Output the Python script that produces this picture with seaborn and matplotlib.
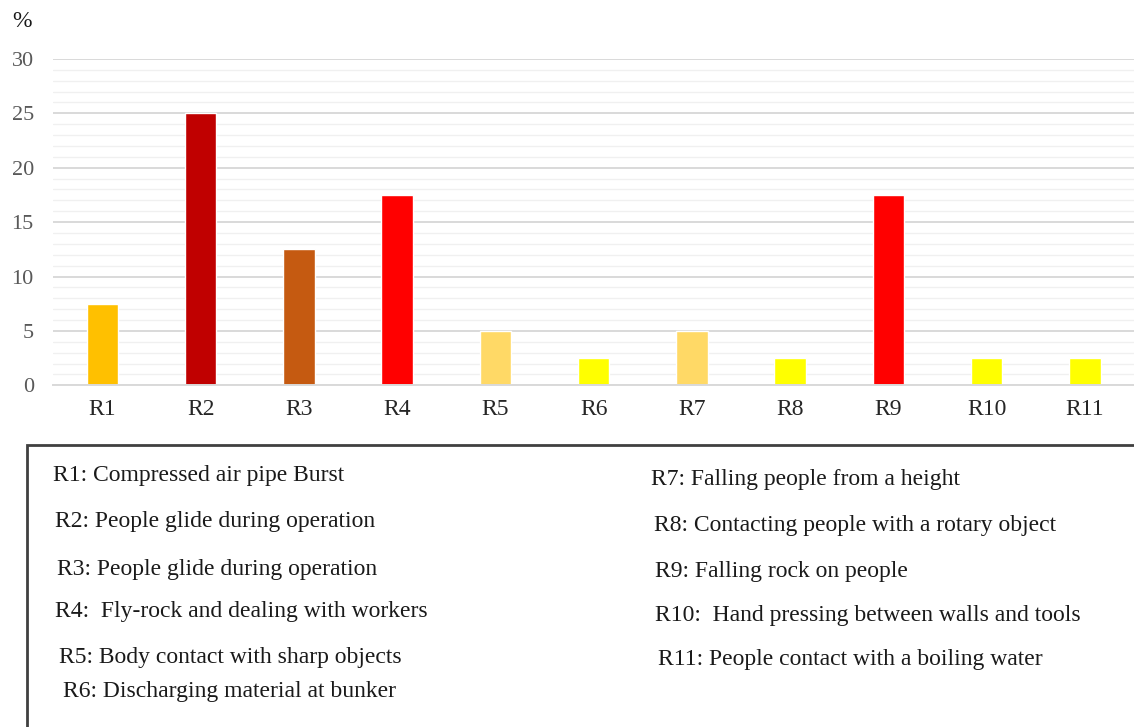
import matplotlib
matplotlib.use("Agg")
import matplotlib.pyplot as plt
from matplotlib.patches import Rectangle
from matplotlib.ticker import MultipleLocator
import seaborn as sns
import pandas as pd

risks = ['R1', 'R2', 'R3', 'R4', 'R5', 'R6', 'R7', 'R8', 'R9', 'R10', 'R11']
percent = [7.5, 25, 12.5, 17.5, 5, 2.5, 5, 2.5, 17.5, 2.5, 2.5]
colors = ['#FFC000', '#C00000', '#C55A11', '#FF0000', '#FFD966', '#FFFF00',
          '#FFD966', '#FFFF00', '#FF0000', '#FFFF00', '#FFFF00']
left_notes = ['R1: Compressed air pipe Burst',
              'R2: People glide during operation',
              'R3: People glide during operation',
              'R4:  Fly-rock and dealing with workers',
              'R5: Body contact with sharp objects',
              'R6: Discharging material at bunker']
right_notes = ['R7: Falling people from a height',
               'R8: Contacting people with a rotary object',
               'R9: Falling rock on people',
               'R10:  Hand pressing between walls and tools',
               'R11: People contact with a boiling water']

df = pd.DataFrame({'risk': risks, 'pct': percent})

sns.set_style('white')
plt.rcParams['font.family'] = ['Liberation Serif', 'DejaVu Serif']

fig = plt.figure(figsize=(11.34, 7.27), dpi=100)
ax = fig.add_axes([0.047, 0.47, 0.953, 0.449])

sns.barplot(data=df, x='risk', y='pct', hue='risk', palette=dict(zip(risks, colors)),
            width=0.32, legend=False, ax=ax, saturation=1)

ax.set_ylim(0, 30)
ax.set_xlim(-0.5, 10.5)
ax.yaxis.set_major_locator(MultipleLocator(5))
ax.yaxis.set_minor_locator(MultipleLocator(1))
ax.grid(which='major', axis='y', color='#D9D9D9', linewidth=1.4)
ax.grid(which='minor', axis='y', color='#F0F0F0', linewidth=1.0)
ax.set_axisbelow(True)
for s in ['top', 'right', 'left']:
    ax.spines[s].set_visible(False)
ax.spines['bottom'].set_color('#D9D9D9')
ax.spines['bottom'].set_linewidth(1.4)
ax.tick_params(axis='both', which='both', length=0)
ax.tick_params(axis='y', labelsize=16, labelcolor='#595959', pad=14)
ax.tick_params(axis='x', labelsize=17, labelcolor='#262626', pad=10)
ax.set_xlabel('')
ax.set_ylabel('')

fig.text(0.011, 0.97, '%', fontsize=17, color='#1a1a1a', va='center')

# legend box with risk descriptions
fig.patches.append(Rectangle((27 / 1134, -0.01), 1.02, 1 - 445 / 727 + 0.01,
                             transform=fig.transFigure, fill=False,
                             edgecolor='#404040', linewidth=2))
left_y = [476, 522, 569, 611, 657, 692]
left_x = [53, 55, 57, 55, 59, 63]
for txt, yy, xx in zip(left_notes, left_y, left_x):
    fig.text(xx / 1134, 1 - yy / 727, txt, fontsize=17, color='#1a1a1a', va='center')
right_y = [480, 525, 572, 615, 660]
right_x = [651, 654, 655, 655, 658]
for txt, yy, xx in zip(right_notes, right_y, right_x):
    fig.text(xx / 1134, 1 - yy / 727, txt, fontsize=17, color='#1a1a1a', va='center')

fig.savefig('out.png', dpi=100)
